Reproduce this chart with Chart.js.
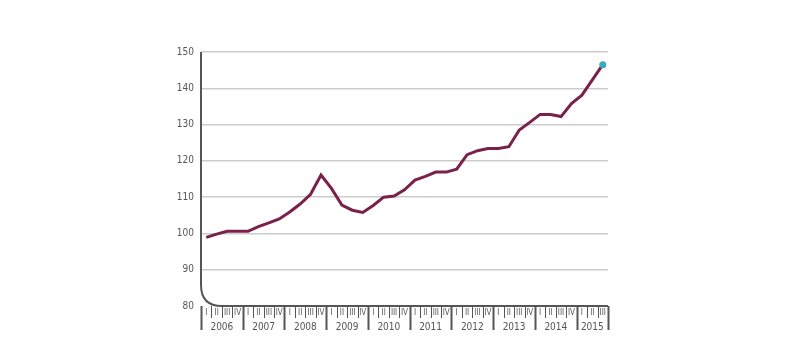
<!DOCTYPE html>
<html>
<head>
<meta charset="utf-8">
<script src="https://cdn.jsdelivr.net/npm/chart.js@4"></script>
<style>
  html, body { margin: 0; padding: 0; background: #fff; }
  #wrap { width: 790px; height: 360px; }
</style>
</head>
<body>
<div id="wrap"><canvas id="chart" width="790" height="360"></canvas></div>
<script>
// Dane: kwartały 2006 Q1 - 2015 Q3
const years = ['2006', '2007', '2008', '2009', '2010', '2011', '2012', '2013', '2014', '2015'];
const quarterNames = ['I', 'II', 'III', 'IV'];
const values = [
    98.9, 99.8, 100.6, 100.6,
    100.6, 101.9, 102.9, 104.0,
    105.9, 108.1, 110.8, 116.1,
    112.4, 107.8, 106.4, 105.8,
    107.7, 110.0, 110.3, 112.0,
    114.7, 115.7, 116.9, 116.9,
    117.7, 121.7, 122.8, 123.4,
    123.4, 123.9, 128.5, 130.6,
    132.8, 132.8, 132.2, 135.8,
    138.1, 142.3, 146.5
];
const yTicks = [80, 90, 100, 110, 120, 130, 140, 150];

const FONT = "'Liberation Sans Narrow', 'DejaVu Sans Condensed', sans-serif";
const AXIS = '#555555';

// etykiety kategorii: rok + kwartał
const labels = values.map((v, i) => years[Math.floor(i / 4)] + ' ' + quarterNames[i % 4]);

// Oś pozioma z zaokrąglonym narożnikiem, kreski kwartałów i podpisy lat
const axisPlugin = {
    id: 'quarterAxis',
    afterDraw(chart) {
        const ctx = chart.ctx;
        const x = chart.scales.x;
        const area = chart.chartArea;
        const L = area.left, B = area.bottom, T = area.top;
        const n = values.length;
        const step = x.getPixelForValue(1) - x.getPixelForValue(0);
        const edge = i => x.getPixelForValue(i) - step / 2;
        const R = edge(n);

        ctx.save();
        ctx.strokeStyle = AXIS;
        ctx.lineWidth = 2;
        ctx.beginPath();
        ctx.moveTo(L, T);
        ctx.lineTo(L, B - 21);
        ctx.quadraticCurveTo(L, B, L + 21, B);
        ctx.lineTo(R, B);
        ctx.stroke();

        // kreski
        for (let i = 0; i <= n; i++) {
            const px = Math.round(edge(i)) + 0.5;
            const isYear = i % 4 === 0 || i === n;
            ctx.beginPath();
            ctx.lineWidth = isYear ? 2 : 1;
            ctx.moveTo(px, B);
            ctx.lineTo(px, B + (isYear ? 24 : 12));
            ctx.stroke();
        }

        ctx.fillStyle = AXIS;
        ctx.textAlign = 'center';
        ctx.textBaseline = 'middle';
        ctx.font = '8px ' + FONT;
        values.forEach((v, i) => {
            ctx.fillText(quarterNames[i % 4], x.getPixelForValue(i), B + 7);
        });

        ctx.font = '10px ' + FONT;
        years.forEach((yr, k) => {
            const first = k * 4;
            const last = Math.min(first + 3, n - 1);
            const cx = (edge(first) + edge(last + 1)) / 2;
            ctx.fillText(yr, cx, B + 21);
        });
        ctx.restore();
    }
};

new Chart(document.getElementById('chart'), {
    type: 'line',
    data: {
        labels: labels,
        datasets: [{
            data: values,
            borderColor: '#7b2149',
            borderWidth: 3,
            tension: 0,
            pointRadius: values.map((v, i) => i === values.length - 1 ? 3.5 : 0),
            pointBackgroundColor: '#3aa8c1',
            pointBorderWidth: 0,
            fill: false
        }]
    },
    options: {
        responsive: false,
        animation: false,
        events: [],
        layout: { padding: { left: 0, right: 182, top: 52, bottom: 54 } },
        plugins: {
            legend: { display: false },
            tooltip: { enabled: false }
        },
        scales: {
            x: {
                type: 'category',
                display: false,
                offset: true
            },
            y: {
                min: 80,
                max: 150,
                afterBuildTicks: scale => { scale.ticks = yTicks.map(v => ({ value: v })); },
                afterFit: scale => { scale.width = 201; },
                border: { display: false },
                grid: {
                    drawTicks: false,
                    color: ctx => ctx.tick && ctx.tick.value === 80 ? 'rgba(0,0,0,0)' : '#cccccc',
                    lineWidth: 1.5
                },
                ticks: {
                    padding: 7,
                    color: AXIS,
                    font: { family: FONT, size: 10 }
                }
            }
        }
    },
    plugins: [axisPlugin]
});
</script>
</body>
</html>
